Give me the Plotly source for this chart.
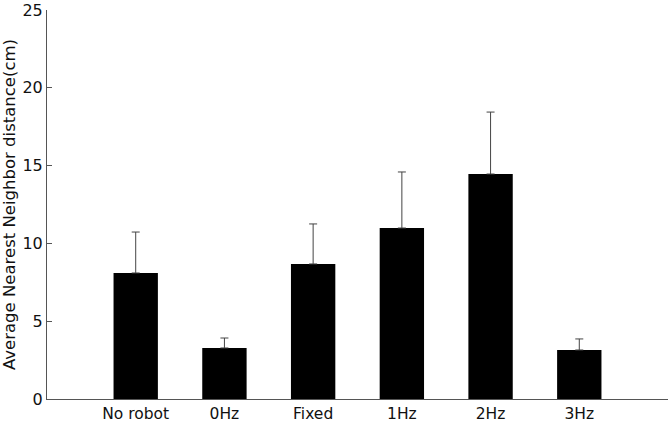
import plotly.graph_objects as go

# categories and values
conditions = ["No robot", "0Hz", "Fixed", "1Hz", "2Hz", "3Hz"]
mean_dist = [8.1, 3.28, 8.68, 10.99, 14.46, 3.15]
upper_err = [2.63, 0.64, 2.57, 3.6, 3.98, 0.71]

positions = list(range(1, len(conditions) + 1))

bars = go.Bar(
    x=positions,
    y=mean_dist,
    width=0.5,
    marker=dict(color="black", line=dict(color="black", width=0)),
    error_y=dict(
        type="data",
        symmetric=False,
        array=upper_err,
        arrayminus=[0] * len(upper_err),
        color="#444444",
        thickness=1,
        width=4,
    ),
)

font = "DejaVu Sans, Arial, Helvetica, sans-serif"

layout = go.Layout(
    width=672,
    height=422,
    margin=dict(l=47, r=4, t=10, b=23, autoexpand=False),
    paper_bgcolor="white",
    plot_bgcolor="white",
    showlegend=False,
    font=dict(family=font, size=15, color="#111111"),
    xaxis=dict(
        range=[0, 7],
        tickvals=positions,
        ticktext=conditions,
        showline=True,
        linecolor="#555555",
        linewidth=1,
        ticks="",
        showgrid=False,
        zeroline=False,
        tickfont=dict(size=15.5),
        automargin=False,
    ),
    yaxis=dict(
        range=[0, 25],
        tickvals=[0, 5, 10, 15, 20, 25],
        showline=True,
        linecolor="#555555",
        linewidth=1,
        ticks="inside",
        ticklen=5,
        tickcolor="#555555",
        showgrid=False,
        zeroline=False,
        tickfont=dict(size=16),
        automargin=False,
        title=dict(text="Average Nearest Neighbor distance(cm)", standoff=6, font=dict(size=16.5)),
    ),
)

fig = go.Figure(data=[bars], layout=layout)
# drop the default page margin so the figure sits at the window's corner
fig.write_html(
    "out.html",
    config={"displayModeBar": False},
    post_script="document.body.style.margin='0px';",
)
